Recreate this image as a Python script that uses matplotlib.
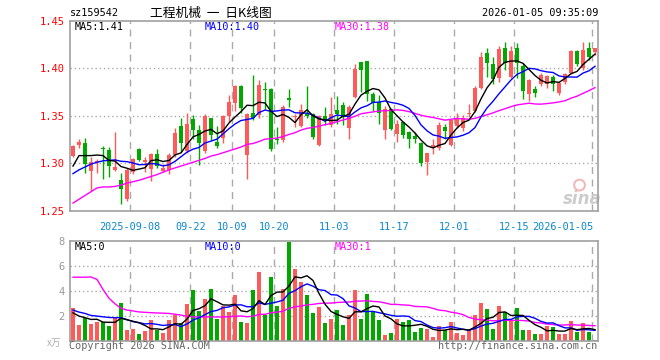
import numpy as np
import pandas as pd
import matplotlib
matplotlib.use('Agg')
import matplotlib.pyplot as plt
import matplotlib.transforms as mtrans

# daily OHLC (2025-08-25 .. 2026-01-05)
opens = [1.308, 1.319, 1.3215, 1.2915, 1.301, 1.316, 1.314, 1.293, 1.2825, 1.262,
         1.291, 1.3145, 1.301, 1.294, 1.310, 1.292, 1.2925, 1.3088, 1.3395, 1.3125,
         1.347, 1.3353, 1.3125, 1.3475, 1.322, 1.3265, 1.350, 1.363, 1.3815, 1.309,
         1.353, 1.351, 1.378, 1.378, 1.325, 1.324, 1.369, 1.349, 1.339, 1.352,
         1.352, 1.319, 1.3495, 1.340, 1.356, 1.361, 1.3375, 1.370, 1.4065, 1.4075,
         1.3725, 1.364, 1.335, 1.357, 1.331, 1.343, 1.333, 1.329, 1.3215, 1.301,
         1.316, 1.316, 1.338, 1.3195, 1.339, 1.337, 1.352, 1.355, 1.379, 1.4165,
         1.4045, 1.390, 1.421, 1.391, 1.421, 1.402, 1.373, 1.3778, 1.383, 1.383,
         1.391, 1.374, 1.385, 1.395, 1.418, 1.400, 1.421, 1.4175]
highs = [1.319, 1.326, 1.327, 1.307, 1.304, 1.318, 1.3175, 1.333, 1.290, 1.295,
         1.306, 1.316, 1.307, 1.311, 1.315, 1.299, 1.3105, 1.337, 1.348, 1.3525,
         1.3505, 1.3398, 1.352, 1.348, 1.339, 1.351, 1.372, 1.382, 1.382, 1.353,
         1.393, 1.388, 1.386, 1.379, 1.338, 1.361, 1.378, 1.352, 1.362, 1.381,
         1.353, 1.351, 1.359, 1.370, 1.371, 1.364, 1.361, 1.4045, 1.407, 1.408,
         1.375, 1.372, 1.360, 1.358, 1.345, 1.344, 1.334, 1.333, 1.322, 1.311,
         1.326, 1.343, 1.341, 1.346, 1.353, 1.351, 1.362, 1.381, 1.417, 1.421,
         1.412, 1.423, 1.428, 1.423, 1.427, 1.406, 1.389, 1.381, 1.395, 1.393,
         1.393, 1.385, 1.395, 1.419, 1.419, 1.428, 1.428, 1.421]
lows = [1.307, 1.316, 1.290, 1.271, 1.290, 1.283, 1.2855, 1.292, 1.257, 1.2605,
        1.289, 1.3025, 1.291, 1.281, 1.295, 1.291, 1.289, 1.307, 1.312, 1.3105,
        1.326, 1.2985, 1.311, 1.324, 1.316, 1.321, 1.343, 1.355, 1.353, 1.283,
        1.346, 1.348, 1.357, 1.313, 1.320, 1.322, 1.359, 1.338, 1.338, 1.348,
        1.326, 1.318, 1.340, 1.338, 1.341, 1.340, 1.326, 1.369, 1.375, 1.366,
        1.355, 1.341, 1.326, 1.335, 1.322, 1.327, 1.3155, 1.321, 1.2975, 1.288,
        1.310, 1.314, 1.326, 1.318, 1.337, 1.334, 1.3485, 1.354, 1.378, 1.391,
        1.383, 1.385, 1.398, 1.390, 1.390, 1.368, 1.366, 1.370, 1.381, 1.379,
        1.376, 1.372, 1.383, 1.394, 1.402, 1.398, 1.409, 1.414]
closes = [1.318, 1.3225, 1.2995, 1.301, 1.302, 1.315, 1.297, 1.296, 1.2725, 1.293,
          1.304, 1.3035, 1.303, 1.310, 1.2975, 1.295, 1.3088, 1.332, 1.321, 1.3415,
          1.3353, 1.3217, 1.350, 1.3295, 1.3185, 1.350, 1.364, 1.381, 1.358, 1.352,
          1.348, 1.382, 1.377, 1.3145, 1.324, 1.359, 1.3665, 1.350, 1.3555, 1.350,
          1.3275, 1.350, 1.345, 1.352, 1.352, 1.3485, 1.3595, 1.3995, 1.3985, 1.3725,
          1.363, 1.3525, 1.357, 1.3365, 1.341, 1.330, 1.326, 1.325, 1.300, 1.3105,
          1.319, 1.340, 1.334, 1.345, 1.347, 1.348, 1.3525, 1.379, 1.412, 1.405,
          1.389, 1.420, 1.4055, 1.418, 1.406, 1.376, 1.388, 1.3735, 1.393, 1.392,
          1.383, 1.384, 1.394, 1.418, 1.404, 1.419, 1.412, 1.421]
volumes = [2.63, 1.25, 1.84, 1.36, 1.49, 1.49, 1.17, 1.84, 3.0, 0.85,
           0.93, 0.53, 0.77, 1.65, 0.85, 0.61, 1.65, 2.07, 1.38, 2.93,
           4.04, 2.37, 3.3, 4.12, 1.76, 2.77, 2.29, 3.64, 1.49, 1.38,
           4.04, 5.48, 2.07, 5.08, 2.77, 4.1, 7.87, 5.72, 4.68, 3.62,
           2.21, 2.69, 1.41, 1.77, 2.45, 1.25, 2.05, 4.04, 1.76, 3.72,
           2.31, 1.65, 0.45, 0.61, 1.73, 1.49, 1.65, 0.69, 1.01, 0.93,
           0.29, 1.17, 0.85, 1.49, 0.61, 0.45, 0.85, 2.05, 3.0, 2.53,
           0.93, 2.77, 2.29, 1.57, 2.61, 0.85, 0.85, 0.53, 0.53, 1.17,
           1.09, 0.53, 0.53, 1.57, 0.69, 1.41, 0.69, 0.08]

# moving-average values at the left edge (they need days before the window)
ma5_head = [1.297, 1.308, 1.308, 1.308]
ma10_head = [1.289, 1.293, 1.296, 1.299, 1.301, 1.3025, 1.303, 1.3035, 1.302]
ma30_head = [1.258, 1.262, 1.266, 1.270, 1.274, 1.275, 1.275, 1.2755, 1.277, 1.279,
             1.2805, 1.282, 1.284, 1.286, 1.288, 1.2905, 1.293, 1.295, 1.297, 1.299,
             1.301, 1.303, 1.305, 1.3075, 1.309, 1.311, 1.313, 1.315, 1.317]
vma5_head = [2.23, 1.97, 1.84, 1.70]
vma10_head = [2.45, 2.29, 2.18, 2.02, 1.97, 1.91, 1.86, 1.84, 1.84]
vma30_head = [5.08, 5.08, 5.08, 5.1, 4.9, 4.1, 3.4, 2.95, 2.6, 2.45,
              2.38, 2.3, 2.27, 2.24, 2.22, 2.2, 2.18, 2.12, 2.05, 1.95,
              1.9, 1.9, 1.9, 1.9, 1.9, 1.9, 1.92, 1.95, 1.98]

date_labels = ['2025-09-08', '09-22', '10-09', '10-20', '11-03', '11-17', '12-01', '12-15', '2026-01-05']
date_index = [10, 20, 27, 34, 44, 54, 64, 74, 87]
price_ticks = [1.25, 1.30, 1.35, 1.40, 1.45]
vol_ticks = [2, 4, 6, 8]


def sma(vals, n, head):
    s = pd.Series(vals).rolling(n).mean().to_numpy()
    s[:n - 1] = head
    return s


RED = '#ff5a5a'
GREEN = '#00a800'
GRID = '#aaaaaa'
MONO = 'DejaVu Sans Mono'
CJK = ['Noto Sans CJK SC', 'DejaVu Sans']

n = len(closes)
x = np.arange(n)
o = np.array(opens); c = np.array(closes)
up = c >= o
cols = [RED if u else GREEN for u in up]

fig = plt.figure(figsize=(6.6, 3.6), dpi=100)
W, H = 660.0, 360.0
ax = fig.add_axes([70 / W, 1 - 210.7 / H, 528 / W, 190 / H])
axv = fig.add_axes([70 / W, 1 - 340.7 / H, 528 / W, 100 / H])

for a in (ax, axv):
    a.set_xlim(-0.5, n - 0.5)
    for s in a.spines.values():
        s.set_color('#a0a0a0')
        s.set_linewidth(1.2)
    a.set_xticks([])
    a.tick_params(axis='y', length=0, pad=4)
    for d in date_index:
        a.axvline(d - 0.45, color=GRID, lw=1, ls=(0, (5, 4)), zorder=0)

# price panel
ax.set_ylim(1.25, 1.45)
for p in price_ticks[1:-1]:
    ax.axhline(p, color=GRID, lw=1, ls=(0, (1, 2)), zorder=0)
ax.set_yticks(price_ticks)
ax.set_yticklabels([f'{p:.2f}' for p in price_ticks], color='red', fontsize=7.5, family=MONO)

ax.vlines(x, lows, highs, colors=cols, lw=1, zorder=2)
body_lo = np.minimum(o, c)
body_h = np.maximum(np.abs(c - o), 0.0007)
ax.bar(x, body_h, bottom=body_lo, width=0.8, color=cols, linewidth=0, zorder=3)

ma5 = sma(closes, 5, ma5_head)
ma10 = sma(closes, 10, ma10_head)
ma30 = sma(closes, 30, ma30_head)
ax.plot(x, ma30, color='#ff00ff', lw=1, zorder=4)
ax.plot(x, ma10, color='#0000ff', lw=1, zorder=4)
ax.plot(x, ma5, color='black', lw=1, zorder=5)

# sina watermark
ax.text(0.97, 0.06, 'sina', transform=ax.transAxes, ha='center', va='center',
        fontsize=12, style='italic', weight='bold', color='#cccccc', zorder=1)
ax.scatter([0.965], [0.135], s=60, transform=ax.transAxes, facecolors='none',
           edgecolors='#f2b8b8', linewidths=1.5, zorder=1)

# volume panel
axv.set_ylim(0, 8)
for v in vol_ticks[:-1]:
    axv.axhline(v, color=GRID, lw=1, ls=(0, (1, 2)), zorder=0)
axv.set_yticks(vol_ticks)
axv.set_yticklabels([str(v) for v in vol_ticks], color='#999999', fontsize=7.5, family=MONO)
axv.bar(x, volumes, width=0.8, color=cols, linewidth=0, zorder=2)
axv.plot(x, sma(volumes, 30, vma30_head), color='#ff00ff', lw=1, zorder=4)
axv.plot(x, sma(volumes, 10, vma10_head), color='#0000ff', lw=1, zorder=4)
axv.plot(x, sma(volumes, 5, vma5_head), color='black', lw=1, zorder=5)

# date labels
tr = mtrans.blended_transform_factory(ax.transData, fig.transFigure)
for lab, d in zip(date_labels, date_index):
    ha = 'right' if d == date_index[-1] else 'center'
    xx = d - 0.45 + (0.2 if ha == 'right' else 0)
    ax.text(xx, 1 - 227 / H, lab, transform=tr, ha=ha, va='center',
            fontsize=7.3, family=MONO, color='#0a88d0')


def ftext(px, py, s, **kw):
    fig.text(px / W, 1 - py / H, s, va='center', **kw)


ftext(70, 13, 'sz159542', fontsize=7.3, family=MONO, color='black')
ftext(150, 13, '工程机械  一  日K线图', fontsize=9.2, family=CJK, color='black')
ftext(598, 13, '2026-01-05 09:35:09', fontsize=7.3, family=MONO, color='black', ha='right')

ftext(75, 27, 'MA5:1.41', fontsize=7.3, family=MONO, color='black')
ftext(205, 27, 'MA10:1.40', fontsize=7.3, family=MONO, color='#0000ff')
ftext(335, 27, 'MA30:1.38', fontsize=7.3, family=MONO, color='#ff00ff')

ftext(75, 247, 'MA5:0', fontsize=7.3, family=MONO, color='black')
ftext(205, 247, 'MA10:0', fontsize=7.3, family=MONO, color='#0000ff')
ftext(335, 247, 'MA30:1', fontsize=7.3, family=MONO, color='#ff00ff')

ftext(47, 343, 'x万', fontsize=7, family=CJK, color='#b0b0b0')
ftext(69, 346, 'Copyright 2026 SINA.COM', fontsize=7.3, family=MONO, color='#666666')
ftext(597, 346, 'http://finance.sina.com.cn', fontsize=7.3, family=MONO, color='#666666', ha='right')

fig.savefig('out.png', dpi=100)
